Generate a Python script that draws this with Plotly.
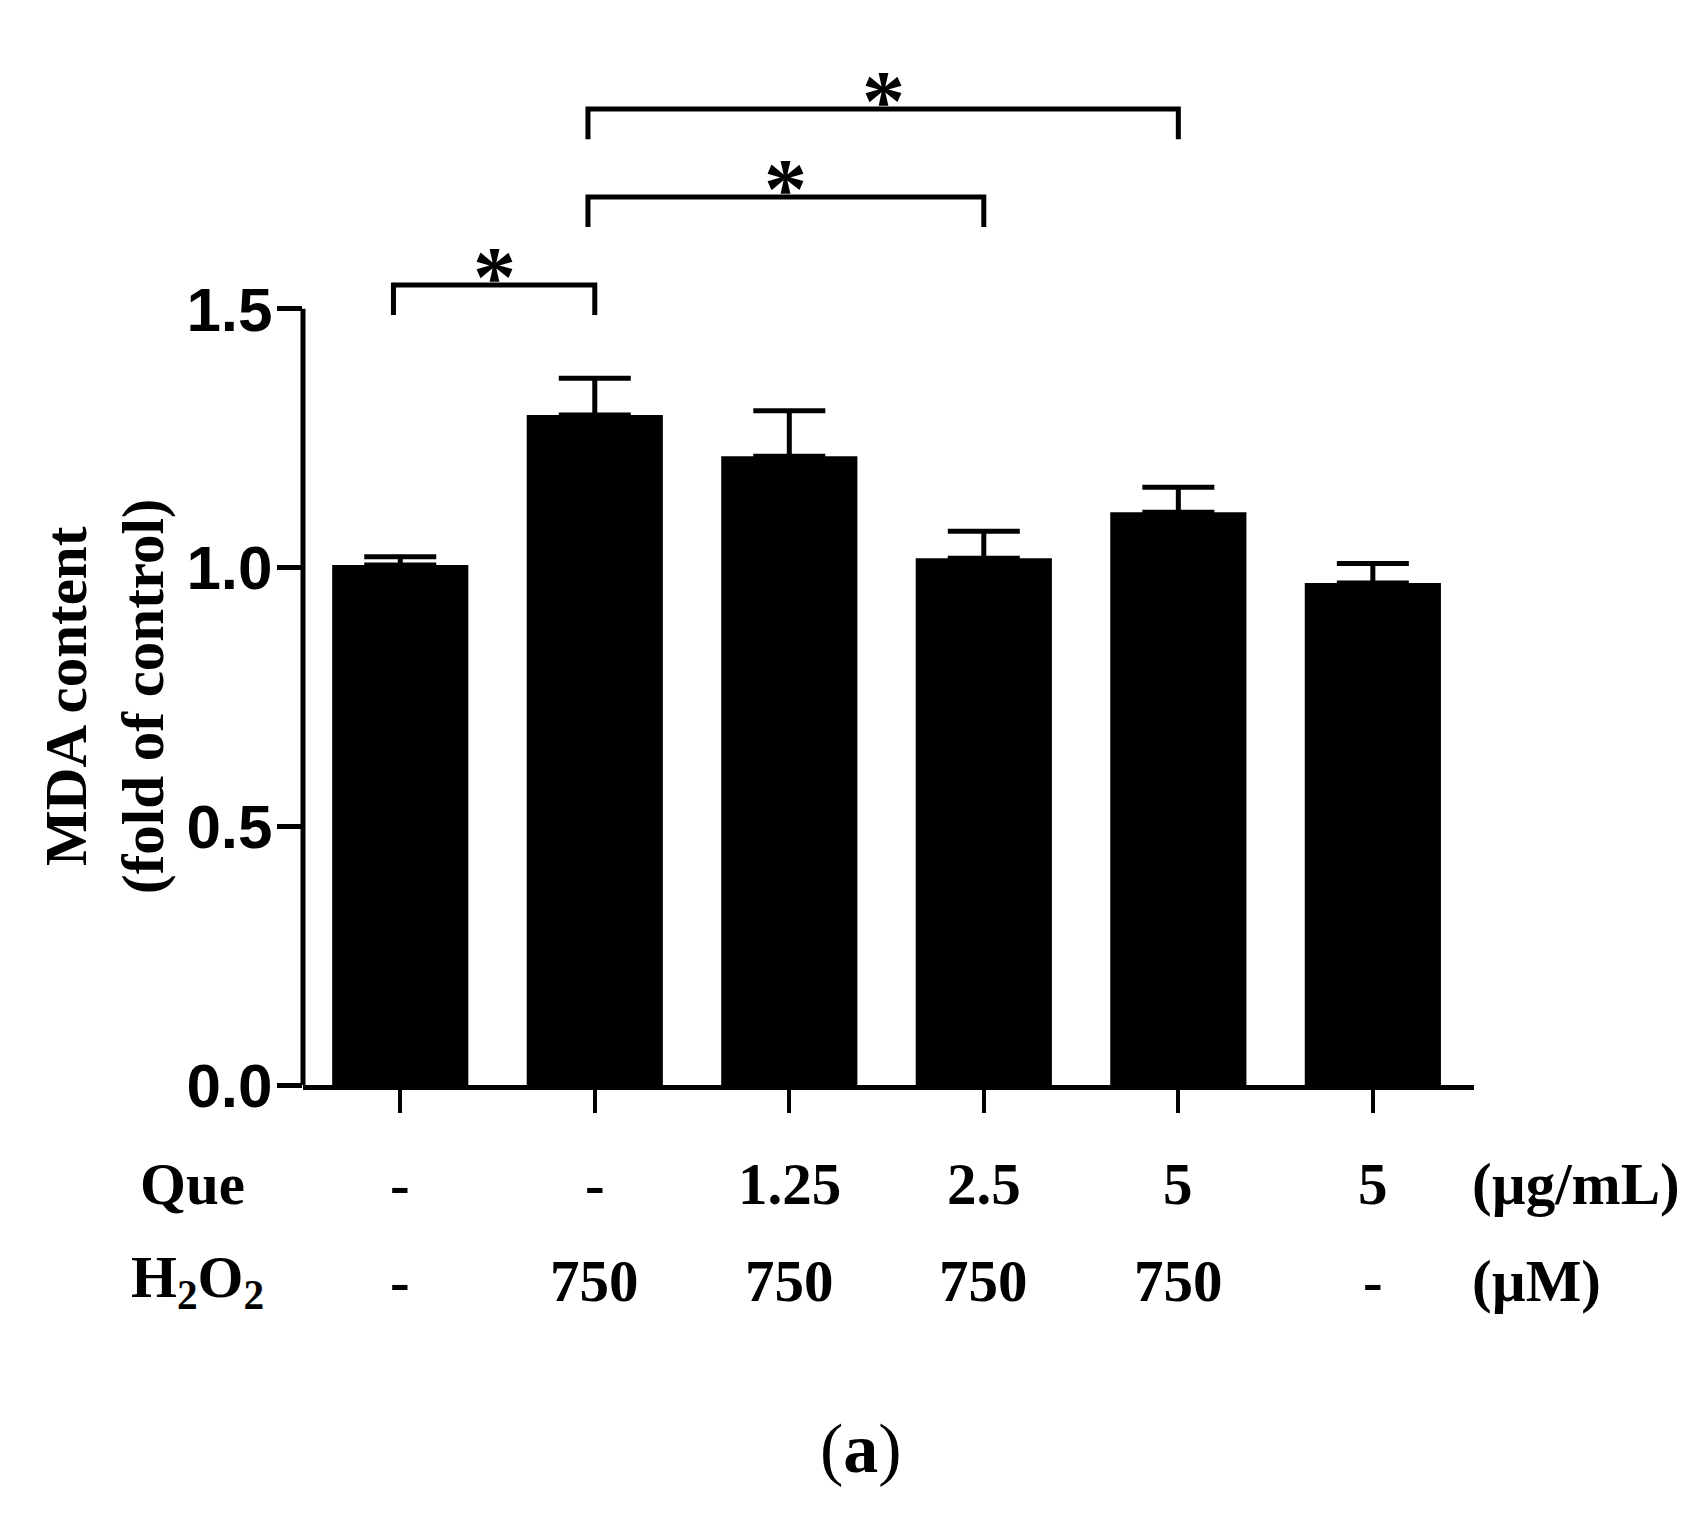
import plotly.graph_objects as go

# MDA content (fold of control), bar mean and upper SD
que_dose = ["-", "-", "1.25", "2.5", "5", "5"]
h2o2_dose = ["-", "750", "750", "750", "750", "-"]
mda_mean = [1.005, 1.295, 1.215, 1.018, 1.107, 0.970]
mda_sd = [0.016, 0.071, 0.088, 0.052, 0.048, 0.038]

# significance brackets: (group a, group b, label)
comparisons = [(0, 1, "*"), (1, 3, "*"), (1, 4, "*")]

y_ticks = [0.0, 0.5, 1.0, 1.5]

x_pos = list(range(len(mda_mean)))
serif = "Liberation Serif"
sans = "Liberation Sans"

fig = go.Figure()

# bars with upper error bars only
fig.add_trace(go.Bar(
    x=x_pos, y=mda_mean, width=0.70,
    marker=dict(color="black", line_width=0),
    error_y=dict(type="data", symmetric=False, array=mda_sd,
                 arrayminus=[0] * len(mda_sd),
                 color="black", thickness=5, width=36),
))

# brackets + stars
annotations = []
for k, (a, b, lab) in enumerate(comparisons):
    h = 1.546 + 0.17 * k
    drop = 0.058
    xa = a - 0.035
    fig.add_trace(go.Scatter(
        x=[xa, xa, b, b], y=[h - drop, h, h, h - drop],
        mode="lines", line=dict(color="black", width=5),
        hoverinfo="skip",
    ))
    annotations.append(dict(
        x=(xa + b) / 2, y=h, xref="x", yref="y", text=lab, showarrow=False,
        xanchor="center", yanchor="bottom", yshift=-42,
        font=dict(family=serif, size=86, color="black", weight="bold"),
    ))

# treatment table under the x axis
row_font = dict(family=serif, size=59, color="black", weight="bold")
for i in x_pos:
    annotations.append(dict(x=i, y=-0.098, xref="x", yref="paper", text=que_dose[i],
                            showarrow=False, font=row_font, xanchor="center", yanchor="middle"))
    annotations.append(dict(x=i, y=-0.194, xref="x", yref="paper", text=h2o2_dose[i],
                            showarrow=False, font=row_font, xanchor="center", yanchor="middle"))

annotations += [
    dict(x=-0.141, y=-0.098, xref="paper", yref="paper", text="Que", showarrow=False,
         font=row_font, xanchor="left", yanchor="middle"),
    dict(x=-0.149, y=-0.194, xref="paper", yref="paper", text="H<sub>2</sub>O<sub>2</sub>",
         showarrow=False, font=row_font, xanchor="left", yanchor="middle"),
    dict(x=0.9966, y=-0.098, xref="paper", yref="paper", text="(µg/mL)", showarrow=False,
         font=row_font, xanchor="left", yanchor="middle"),
    dict(x=0.9966, y=-0.194, xref="paper", yref="paper", text="(µM)", showarrow=False,
         font=row_font, xanchor="left", yanchor="middle"),
    # y axis title
    dict(x=-0.169, y=0.75, xref="paper", yref="y", text="MDA content<br>(fold of control)",
         textangle=-90, showarrow=False, xanchor="center", yanchor="middle",
         font=dict(family=serif, size=59, color="black", weight="bold")),
    # panel label
    dict(x=0.4765, y=-0.36, xref="paper", yref="paper", text="(<b>a</b>)", showarrow=False,
         xanchor="center", yanchor="middle",
         font=dict(family=serif, size=70, color="black")),
]

fig.update_layout(
    width=1688, height=1513,
    margin=dict(l=295, r=222, t=68, b=436),
    plot_bgcolor="white", paper_bgcolor="white",
    showlegend=False,
    annotations=annotations,
    # y axis line only up to the last tick
    shapes=[dict(type="line", xref="x domain", yref="y", x0=0, x1=0,
                 y0=0, y1=max(y_ticks), line=dict(color="black", width=5))],
    xaxis=dict(range=[-0.5, 5.52], tickvals=x_pos, showticklabels=False,
               ticks="outside", ticklen=23, tickwidth=4, tickcolor="black",
               showline=True, linewidth=5, linecolor="black",
               showgrid=False, zeroline=False),
    yaxis=dict(range=[0, 1.95], tickvals=y_ticks, ticktext=["%.1f" % t for t in y_ticks],
               ticks="outside", ticklen=25, tickwidth=5, tickcolor="black",
               ticklabelstandoff=-8,
               showline=False, showgrid=False, zeroline=False,
               tickfont=dict(family=sans, size=62, color="black", weight="bold")),
)

fig.write_html("out.html")
